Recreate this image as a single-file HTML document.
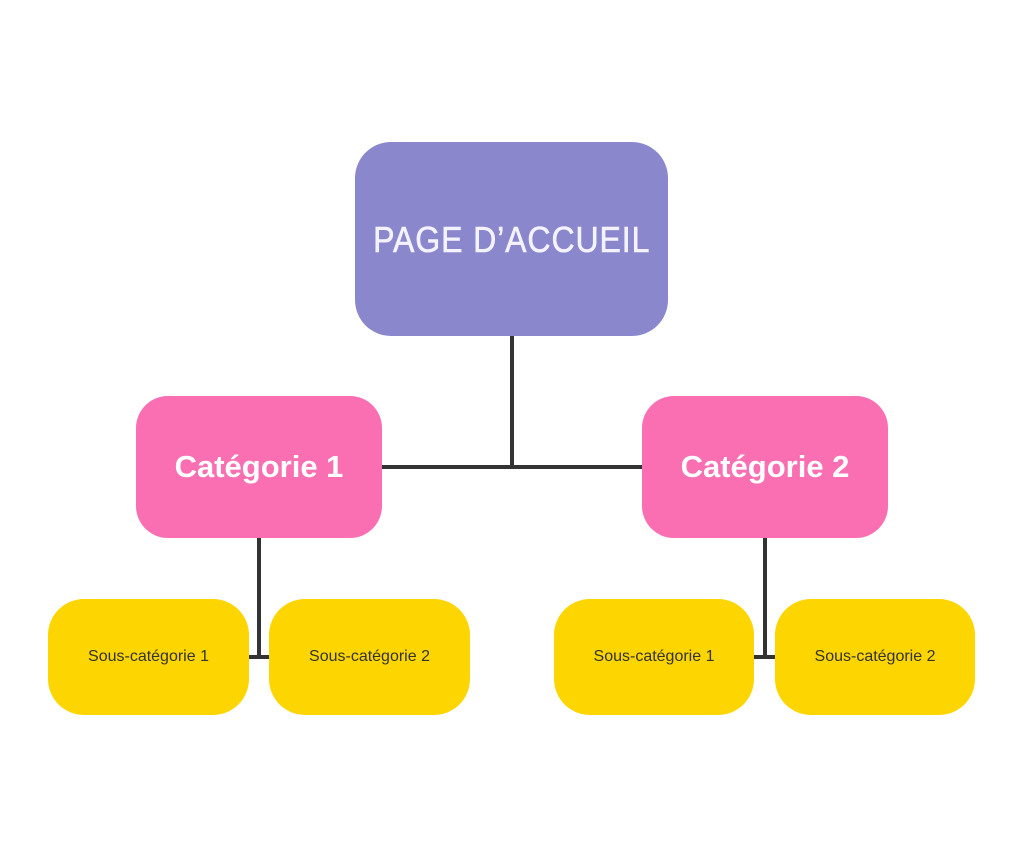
<!DOCTYPE html>
<html><head><meta charset="utf-8"><style>
body{margin:0;width:1024px;height:858px;background:#fff;position:relative;overflow:hidden;font-family:"Liberation Sans",sans-serif}
.b{position:absolute;display:flex;align-items:center;justify-content:center;box-sizing:border-box}
.l{position:absolute;background:#333}
</style></head><body>
<div class="l" style="left:510px;top:334px;width:4px;height:135px"></div>
<div class="l" style="left:380px;top:465px;width:264px;height:4px"></div>
<div class="l" style="left:257px;top:536px;width:4px;height:123px"></div>
<div class="l" style="left:247px;top:655px;width:24px;height:4px"></div>
<div class="l" style="left:763px;top:536px;width:4px;height:123px"></div>
<div class="l" style="left:752px;top:655px;width:25px;height:4px"></div>

<div class="b" style="left:355px;top:142px;width:313px;height:194px;border-radius:36px;background:#8b87cd;color:#f5f2ff;font-size:36px;letter-spacing:1px;padding-top:2px;-webkit-text-stroke:0.6px #f5f2ff"><span style="display:inline-block;transform:scaleX(0.89)">PAGE D’ACCUEIL</span></div>

<div class="b" style="left:136px;top:396px;width:246px;height:142px;border-radius:32px;background:#f96fb2;color:#fff;font-weight:bold;font-size:31px">Catégorie 1</div>
<div class="b" style="left:642px;top:396px;width:246px;height:142px;border-radius:32px;background:#f96fb2;color:#fff;font-weight:bold;font-size:31px">Catégorie 2</div>

<div class="b" style="left:48px;top:599px;width:201px;height:116px;border-radius:36px;background:#fdd500;color:#333;font-size:16px">Sous-catégorie 1</div>
<div class="b" style="left:269px;top:599px;width:201px;height:116px;border-radius:36px;background:#fdd500;color:#333;font-size:16px">Sous-catégorie 2</div>
<div class="b" style="left:554px;top:599px;width:200px;height:116px;border-radius:36px;background:#fdd500;color:#333;font-size:16px">Sous-catégorie 1</div>
<div class="b" style="left:775px;top:599px;width:200px;height:116px;border-radius:36px;background:#fdd500;color:#333;font-size:16px">Sous-catégorie 2</div>
</body></html>
